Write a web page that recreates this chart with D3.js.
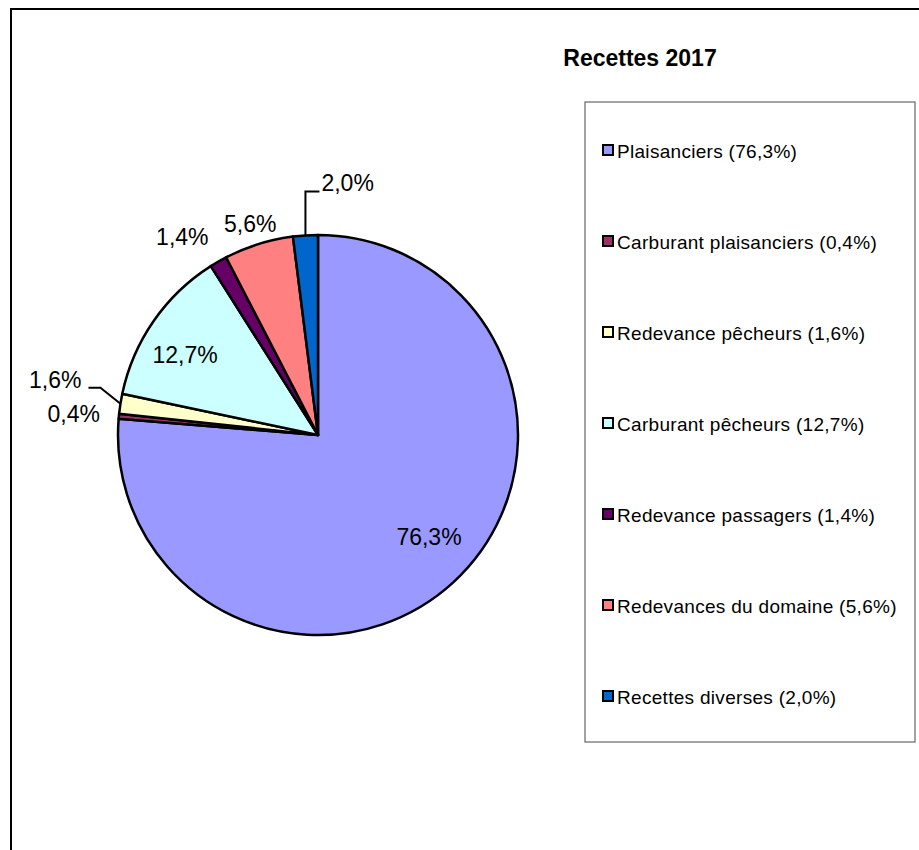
<!DOCTYPE html>
<html>
<head>
<meta charset="utf-8">
<script src="https://cdn.jsdelivr.net/npm/d3@7/dist/d3.min.js"></script>
<style>
  body { margin: 0; background: #fff; }
  svg { display: block; font-family: "Liberation Sans", Arial, sans-serif; }
</style>
</head>
<body>
<svg id="chart" width="919" height="850"></svg>
<script>
/*****************************************************************************
 *  Recettes 2017 - pie chart
 */

// Data
var CATEGORIES = [
    "Plaisanciers",
    "Carburant plaisanciers",
    "Redevance pêcheurs",
    "Carburant pêcheurs",
    "Redevance passagers",
    "Redevances du domaine",
    "Recettes diverses"
];
var VALUES = [76.3, 0.4, 1.6, 12.7, 1.4, 5.6, 2.0];
var COLORS = ["#9999FF", "#993366", "#FFFFCC", "#CCFFFF", "#660066", "#FF8080", "#0066CC"];
var TITLE = "Recettes 2017";

// Layout
var CANVAS_WIDTH = 919;
var CANVAS_HEIGHT = 850;
var PIE_CX = 318;
var PIE_CY = 435;
var PIE_RADIUS = 200;
var INSIDE_LABEL_RADIUS = 152;
var OUTSIDE_LABEL_GAP = 12;
var LABEL_FONT_SIZE = 23;
var LABEL_HALF_CAP = 8;
var LEGEND_X = 585;
var LEGEND_Y = 102;
var LEGEND_W = 330;
var LEGEND_H = 640;
var LEGEND_FIRST_BASELINE = 158;
var LEGEND_STEP = 91;
var LEGEND_MARKER = 12;
var LEGEND_FONT_SIZE = 19;

// How Excel placed each data label (mode + manual nudge)
var LABEL_LAYOUT = [
    { mode: "inside",  dx: 8,   dy: -10 },
    { mode: "free",    dx: -19, dy: 6 },
    { mode: "leader",  elbowDx: -20, elbowDy: -16, tail: -12 },
    { mode: "inside",  dx: -8,  dy: 7 },
    { mode: "outside", dx: -17, dy: -7 },
    { mode: "outside", dx: 3,   dy: -1 },
    { mode: "leader",  elbowDx: 0, elbowDy: -44, tail: 14 }
];

function fmt(v) {
    return v.toFixed(1).replace(".", ",") + "%";
}

var svg = d3.select("#chart");

// Outer frame (runs past the right and bottom edges)
svg.append("rect")
    .attr("x", 11)
    .attr("y", 9)
    .attr("width", CANVAS_WIDTH + 20)
    .attr("height", CANVAS_HEIGHT + 20)
    .attr("fill", "none")
    .attr("stroke", "#000")
    .attr("stroke-width", 2);

// Title
svg.append("text")
    .attr("x", 640)
    .attr("y", 66)
    .attr("text-anchor", "middle")
    .attr("font-size", 23)
    .attr("font-weight", "bold")
    .text(TITLE);

// Pie
var pie = d3.pie().sort(null).value(d => d);
var arcs = pie(VALUES);
var arc = d3.arc().innerRadius(0).outerRadius(PIE_RADIUS);

var pie_g = svg.append("g")
    .attr("transform", "translate(" + PIE_CX + "," + PIE_CY + ")");

pie_g.selectAll(".slice")
    .data(arcs)
    .enter()
    .append("path")
    .attr("class", "slice")
    .attr("d", arc)
    .attr("fill", (d, i) => COLORS[i])
    .attr("stroke", "#000")
    .attr("stroke-width", 2.5)
    .attr("stroke-linejoin", "round");

// Data labels
for (var i = 0; i < arcs.length; i++) {
    var a = arcs[i];
    var mid = (a.startAngle + a.endAngle) / 2;
    var sn = Math.sin(mid), cs = Math.cos(mid);
    var lay = LABEL_LAYOUT[i];
    var txt = fmt(VALUES[i]);
    var label = pie_g.append("text")
        .attr("font-size", LABEL_FONT_SIZE)
        .attr("fill", "#000")
        .text(txt);

    if (lay.mode == "inside") {
        var cx = sn * INSIDE_LABEL_RADIUS + lay.dx;
        var cy = -cs * INSIDE_LABEL_RADIUS + lay.dy;
        label.attr("text-anchor", "middle")
            .attr("x", cx)
            .attr("y", cy + LABEL_HALF_CAP);
    } else if (lay.mode == "outside") {
        var w = label.node().getComputedTextLength();
        var ro = PIE_RADIUS + OUTSIDE_LABEL_GAP;
        var cx = sn * ro + sn * w / 2 + lay.dx;
        var cy = -cs * ro - cs * LABEL_HALF_CAP + lay.dy;
        label.attr("text-anchor", "middle")
            .attr("x", cx)
            .attr("y", cy + LABEL_HALF_CAP);
    } else if (lay.mode == "free") {
        var ex = sn * PIE_RADIUS, ey = -cs * PIE_RADIUS;
        label.attr("text-anchor", sn < 0 ? "end" : "start")
            .attr("x", ex + lay.dx)
            .attr("y", ey + lay.dy);
    } else {
        // leader line: edge -> elbow -> short tail, label at tail end
        var ex = sn * PIE_RADIUS, ey = -cs * PIE_RADIUS;
        var bx = ex + lay.elbowDx, by = ey + lay.elbowDy;
        var tx = bx + lay.tail;
        pie_g.append("path")
            .attr("d", d3.line()([[ex, ey], [bx, by], [tx, by]]))
            .attr("fill", "none")
            .attr("stroke", "#000")
            .attr("stroke-width", 2);
        label.attr("text-anchor", lay.tail < 0 ? "end" : "start")
            .attr("x", lay.tail < 0 ? tx - 7 : tx + 2)
            .attr("y", by);
    }
}

// Legend
svg.append("rect")
    .attr("x", LEGEND_X)
    .attr("y", LEGEND_Y)
    .attr("width", LEGEND_W)
    .attr("height", LEGEND_H)
    .attr("fill", "#fff")
    .attr("stroke", "#666")
    .attr("stroke-width", 1.2);

var legend_items = svg.selectAll(".legend-item")
    .data(CATEGORIES)
    .enter()
    .append("g")
    .attr("class", "legend-item")
    .attr("transform", (d, i) => "translate(" + (LEGEND_X + 18) + "," + (LEGEND_FIRST_BASELINE + i * LEGEND_STEP) + ")");

legend_items.append("rect")
    .attr("x", 0)
    .attr("y", -13)
    .attr("width", LEGEND_MARKER - 2)
    .attr("height", LEGEND_MARKER - 2)
    .attr("fill", (d, i) => COLORS[i])
    .attr("stroke", "#000")
    .attr("stroke-width", 2);

legend_items.append("text")
    .attr("x", 14)
    .attr("y", 0)
    .attr("font-size", LEGEND_FONT_SIZE)
    .attr("letter-spacing", 0.3)
    .attr("fill", "#000")
    .text((d, i) => d + " (" + fmt(VALUES[i]) + ")");
</script>
</body>
</html>
